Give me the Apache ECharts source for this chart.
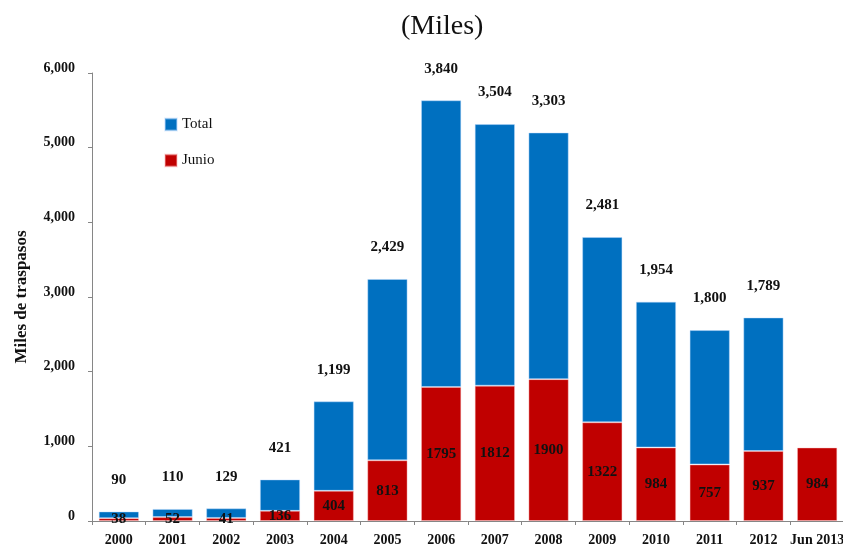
<!DOCTYPE html>
<html>
<head>
<meta charset="utf-8">
<script src="https://cdn.jsdelivr.net/npm/echarts@6/dist/echarts.min.js"></script>
<style>
  html, body { margin: 0; padding: 0; background: #fff; }
  #chart { width: 843px; height: 550px; }
</style>
</head>
<body>
<div id="chart"></div>
<script>
// Traspasos por año (miles): total anual apilado sobre el acumulado a junio
const years = ['2000', '2001', '2002', '2003', '2004', '2005', '2006', '2007', '2008', '2009', '2010', '2011', '2012', 'Jun 2013'];
const junio = [38, 52, 41, 136, 404, 813, 1795, 1812, 1900, 1322, 984, 757, 937, 984];
const total = [90, 110, 129, 421, 1199, 2429, 3840, 3504, 3303, 2481, 1954, 1800, 1789, null];

const SERIF = '"Liberation Serif", "Times New Roman", "DejaVu Serif", serif';
const AXIS_GREY = '#868686';

const chart = echarts.init(document.getElementById('chart'));

chart.setOption({
  animation: false,
  backgroundColor: '#ffffff',
  title: {
    text: '(Miles)',
    left: 396,
    top: 8,
    textStyle: { fontFamily: SERIF, fontSize: 28, fontWeight: 'normal', color: '#111' }
  },
  legend: {
    orient: 'vertical',
    left: 159,
    top: 112,
    itemWidth: 12,
    itemHeight: 12,
    itemGap: 21,
    icon: 'rect',
    data: ['Total', 'Junio'],
    textStyle: {
      fontFamily: SERIF, fontSize: 15, color: '#111',
      padding: [0, 0, 10, 0]
    }
  },
  grid: {
    left: 92, top: 73, width: 752, bottom: 29,
    containLabel: false,
    outerBoundsMode: 'none'
  },
  xAxis: {
    type: 'category',
    data: years,
    axisLine: { lineStyle: { color: AXIS_GREY, width: 1 } },
    axisTick: { show: true, length: 4, lineStyle: { color: AXIS_GREY } },
    axisLabel: {
      interval: 0,
      hideOverlap: false,
      margin: 12,
      fontFamily: SERIF, fontSize: 14, fontWeight: 'bold', color: '#111'
    }
  },
  yAxis: {
    type: 'value',
    min: 0,
    max: 6000,
    interval: 1000,
    name: 'Miles de traspasos',
    nameLocation: 'middle',
    nameGap: 62,
    nameTextStyle: { fontFamily: SERIF, fontSize: 17, fontWeight: 'bold', color: '#111' },
    splitLine: { show: false },
    axisLine: { show: true, lineStyle: { color: AXIS_GREY, width: 1 } },
    axisTick: { show: true, length: 4, lineStyle: { color: AXIS_GREY } },
    axisLabel: {
      margin: 17,
      fontFamily: SERIF, fontSize: 14, fontWeight: 'bold', color: '#111',
      verticalAlign: 'bottom',
      lineHeight: 10,
      formatter: v => v.toLocaleString('en-US')
    }
  },
  series: [
    {
      name: 'Junio',
      type: 'bar',
      stack: 'traspasos',
      data: junio,
      barCategoryGap: '25%',
      itemStyle: { color: '#C00000', borderColor: 'rgba(255,190,190,0.4)', borderWidth: 1 },
      label: {
        show: true,
        position: 'inside',
        fontFamily: SERIF, fontSize: 15, fontWeight: 'bold', color: '#111',
        formatter: p => String(p.value)
      }
    },
    {
      name: 'Total',
      type: 'bar',
      stack: 'traspasos',
      data: total,
      barCategoryGap: '25%',
      itemStyle: { color: '#0070C0', borderColor: 'rgba(190,220,255,0.45)', borderWidth: 1 },
      label: {
        show: true,
        position: 'top',
        distance: 24,
        fontFamily: SERIF, fontSize: 15, fontWeight: 'bold', color: '#111',
        formatter: p => (p.value == null ? '' : p.value.toLocaleString('en-US'))
      }
    }
  ]
});
</script>
</body>
</html>
